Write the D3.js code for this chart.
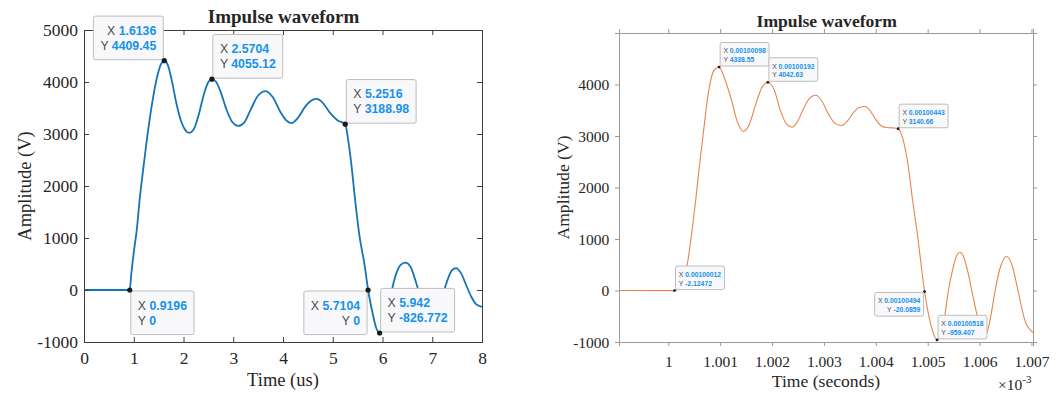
<!DOCTYPE html>
<html>
<head>
<meta charset="utf-8">
<script src="https://cdn.jsdelivr.net/npm/d3@7"></script>
<style>
  html, body { margin: 0; padding: 0; background: #fff; }
  svg { display: block; }
  .serif { font-family: "Liberation Serif", "Times New Roman", serif; fill: #262626; }
  .tip { font-family: "Liberation Sans", Arial, Helvetica, sans-serif; }
</style>
</head>
<body>
<svg id="chart" width="1057" height="399"></svg>
<script>
// ---- Measured waveform (time in microseconds, amplitude in volts) ----
const measTime = [0, 0.9196, 0.95, 1.0, 1.06, 1.12, 1.2, 1.29, 1.38, 1.47, 1.55, 1.6136, 1.68, 1.76, 1.85, 1.95,
  2.04, 2.12, 2.2, 2.3, 2.42, 2.5, 2.5704, 2.65, 2.75, 2.86, 2.98, 3.1, 3.22, 3.35, 3.5, 3.65, 3.8, 3.95,
  4.08, 4.17, 4.3, 4.45, 4.6, 4.68, 4.8, 4.95, 5.1, 5.2516, 5.3, 5.37, 5.45, 5.53, 5.645, 5.7104, 5.8, 5.87,
  5.942, 6.0, 6.07, 6.13, 6.19, 6.27, 6.36, 6.46, 6.56, 6.64, 6.72, 6.82, 6.97, 7.1, 7.24, 7.32, 7.4, 7.48,
  7.58, 7.68, 7.78, 7.88, 8.0];
const measVolt = [0, 0, 300, 720, 1150, 1750, 2400, 3080, 3650, 4100, 4350, 4409.45, 4340, 4050, 3620, 3250,
  3070, 3020, 3080, 3350, 3800, 4000, 4055.12, 4010, 3800, 3480, 3230, 3155, 3220, 3470, 3740, 3825, 3700, 3420,
  3250, 3210, 3310, 3530, 3660, 3675, 3600, 3400, 3260, 3188.98, 2950, 2450, 1730, 1090, 448, 0, -440, -720,
  -826.772, -780, -600, -330, 0, 300, 480, 525, 450, 250, 0, -250, -380, -220, 0, 230, 380, 420,
  320, 100, -120, -270, -325];

// Data tips on the measured waveform
const measTipX = [1.6136, 2.5704, 5.2516, 0.9196, 5.7104, 5.942];
const measTipY = [4409.45, 4055.12, 3188.98, 0, 0, -826.772];
const measTipXText = ["1.6136", "2.5704", "5.2516", "0.9196", "5.7104", "5.942"];
const measTipYText = ["4409.45", "4055.12", "3188.98", "0", "0", "-826.772"];
const measTipSide = ["nw", "ne", "ne", "se", "sw", "ne"];

// ---- Simulated waveform (time in units of 1e-3 s, amplitude in volts) ----
const simTime = [0.99905, 1.00012, 1.0002, 1.00028, 1.000366, 1.00045, 1.000528, 1.0006, 1.000674, 1.00074,
  1.000803, 1.00088, 1.00098, 1.00108, 1.00122, 1.00133, 1.001445, 1.00156, 1.00168, 1.0018, 1.00192, 1.00204,
  1.00216, 1.00228, 1.00239, 1.0025, 1.00262, 1.00274, 1.002846, 1.00296, 1.00309, 1.00322, 1.00334, 1.00346,
  1.00358, 1.00369, 1.00379, 1.0039, 1.004, 1.0041, 1.0042, 1.00432, 1.00443, 1.00452, 1.00462, 1.00471,
  1.0048, 1.00494, 1.00505, 1.00512, 1.00518, 1.00525, 1.00533, 1.0054, 1.00548, 1.00556, 1.00562, 1.00569,
  1.00577, 1.00585, 1.00595, 1.00602, 1.00608, 1.00614, 1.00622, 1.0063, 1.00641, 1.00652, 1.00663, 1.00674,
  1.00688, 1.00703];
const simVolt = [0, -2.12472, 40, 200, 512, 1100, 1748, 2420, 3043, 3600,
  4013, 4270, 4338.55, 4130, 3689, 3280, 3093, 3220, 3600, 3930, 4042.63, 3900,
  3500, 3230, 3171, 3300, 3560, 3750, 3792, 3680, 3420, 3240, 3204, 3300,
  3470, 3560, 3573, 3480, 3320, 3200, 3165, 3158, 3140.66, 2950, 2450, 1748,
  1107, -20.0859, -620, -860, -959.407, -850, -485, 0, 400, 680, 744, 660,
  380, 0, -480, -800, -880, -820, -480, 0, 480, 660, 480, 0,
  -600, -815];

const simTipX = [1.00098, 1.00192, 1.00443, 1.00012, 1.00494, 1.00518];
const simTipY = [4338.55, 4042.63, 3140.66, -2.12472, -20.0859, -959.407];
const simTipXText = ["0.00100098", "0.00100192", "0.00100443", "0.00100012", "0.00100494", "0.00100518"];
const simTipYText = ["4338.55", "4042.63", "3140.66", "-2.12472", "-20.0859", "-959.407"];
const simTipSide = ["ne", "ne", "ne", "ne", "sw", "ne"];

// Axis ticks
const voltTicks = [-1000, 0, 1000, 2000, 3000, 4000, 5000];
const simVoltTicks = [-1000, 0, 1000, 2000, 3000, 4000];
const measTimeTicks = [0, 1, 2, 3, 4, 5, 6, 7, 8];
const simTimeTicks = [1, 1.001, 1.002, 1.003, 1.004, 1.005, 1.006, 1.007];
const simTimeLabels = ["1", "1.001", "1.002", "1.003", "1.004", "1.005", "1.006", "1.007"];

const svg = d3.select("#chart");
const TIP_BLUE = "#1592ea";

function drawTips(g, x, y, xs, ys, xt, yt, sides, opt) {
  xs.forEach((xv, i) => {
    const px = x(xv), py = y(ys[i]);
    const tg = g.append("g");
    const rect = tg.append("rect")
      .attr("fill", "#f8f8fb").attr("stroke", "#bdbdbd").attr("stroke-width", 1)
      .attr("rx", 2);
    const rows = [["X", xt[i]], ["Y", yt[i]]];
    const texts = rows.map(r => {
      const t = tg.append("text").attr("class", "tip").attr("font-size", opt.font);
      t.append("tspan").attr("fill", "#4a4a4a").text(r[0] + " ");
      t.append("tspan").attr("fill", TIP_BLUE).attr("font-weight", "bold").text(r[1]);
      return t;
    });
    const w = d3.max(texts, t => t.node().getComputedTextLength()) + 2 * opt.pad;
    const h = opt.h;
    const side = sides[i];
    const bx = side.includes("e") ? px + opt.off : px - opt.off - w;
    const by = side.includes("n") ? py - opt.off - h : py + opt.off;
    rect.attr("x", bx).attr("y", by).attr("width", w).attr("height", h);
    const right = side.includes("w");
    texts.forEach((t, k) => {
      t.attr("x", right ? bx + w - opt.pad : bx + opt.pad)
       .attr("y", by + opt.base[k])
       .attr("text-anchor", right ? "end" : "start");
    });
    g.append("circle").attr("cx", px).attr("cy", py).attr("r", opt.dot).attr("fill", "#1a1a1a");
  });
}

// ================= Measured waveform panel =================
(function () {
  const L = 84, R = 482, T = 30, B = 342;
  const x = d3.scaleLinear().domain([0, 8]).range([L, R]);
  const y = d3.scaleLinear().domain([-1000, 5000]).range([B, T]);
  const g = svg.append("g");
  const axisColor = "#3c3c3c";

  g.append("text").attr("class", "serif").attr("x", (L + R) / 2 + 0.5).attr("y", 22.5)
    .attr("text-anchor", "middle").attr("font-size", 19).attr("font-weight", "bold")
    .attr("fill", "#111").text("Impulse waveform");

  const line = d3.line().x((d, i) => x(measTime[i])).y(d => y(d)).curve(d3.curveMonotoneX);
  g.append("path").datum(measVolt).attr("d", line)
    .attr("fill", "none").attr("stroke", "#1574b8").attr("stroke-width", 1.8)
    .attr("stroke-linejoin", "round");

  // box + inward ticks
  const ax = g.append("g");
  const bottom = ax.append("g").attr("transform", `translate(0,${B})`)
    .call(d3.axisBottom(x).tickValues(measTimeTicks).tickSize(-5).tickPadding(11).tickFormat(d3.format("d")));
  const top = ax.append("g").attr("transform", `translate(0,${T})`)
    .call(d3.axisTop(x).tickValues(measTimeTicks).tickSize(-5).tickFormat(""));
  const left = ax.append("g").attr("transform", `translate(${L},0)`)
    .call(d3.axisLeft(y).tickValues(voltTicks).tickSize(-5).tickPadding(11).tickFormat(d3.format("d")));
  const rightAx = ax.append("g").attr("transform", `translate(${R},0)`)
    .call(d3.axisRight(y).tickValues(voltTicks).tickSize(-5).tickFormat(""));
  [bottom, top, left, rightAx].forEach(a => {
    a.select(".domain").attr("stroke", axisColor);
    a.selectAll(".tick line").attr("stroke", axisColor);
    a.selectAll("text").attr("class", "serif").attr("font-size", 17.5).attr("fill", "#262626");
  });
  bottom.selectAll("text").attr("dy", null).attr("y", 22);
  left.selectAll("text").attr("dy", "0.33em").attr("x", -6);
  left.selectAll("text").text(d => d < 0 ? "-" + Math.abs(d) : d);

  g.append("text").attr("class", "serif").attr("x", (L + R) / 2).attr("y", 386)
    .attr("text-anchor", "middle").attr("font-size", 18.5).text("Time (us)");
  g.append("text").attr("class", "serif").attr("transform", `translate(31,${(T + B) / 2}) rotate(-90)`)
    .attr("text-anchor", "middle").attr("font-size", 18.5).text("Amplitude (V)");

  drawTips(g, x, y, measTipX, measTipY, measTipXText, measTipYText, measTipSide,
    { font: 12.3, pad: 7, h: 43.6, off: 1, base: [18.7, 33.7], dot: 2.6 });
})();

// ================= Simulated waveform panel =================
(function () {
  const L = 619, R = 1033, T = 33, B = 342;
  const x = d3.scaleLinear().domain([0.99905, 1.00703]).range([L, R]);
  const y = d3.scaleLinear().domain([-1000, 5000]).range([B, T]);
  const g = svg.append("g");
  const axisColor = "#9a9a9a";

  g.append("text").attr("class", "serif").attr("x", 826.7).attr("y", 26.5)
    .attr("text-anchor", "middle").attr("font-size", 17.6).attr("font-weight", "bold")
    .attr("fill", "#111").text("Impulse waveform");

  const line = d3.line().x((d, i) => x(simTime[i])).y(d => y(d)).curve(d3.curveMonotoneX);
  g.append("path").datum(simVolt).attr("d", line)
    .attr("fill", "none").attr("stroke", "#e6844f").attr("stroke-width", 1.1);

  const ax = g.append("g");
  const bottom = ax.append("g").attr("transform", `translate(0,${B})`)
    .call(d3.axisBottom(x).tickValues(simTimeTicks).tickSize(4).tickPadding(9)
      .tickFormat((d, i) => simTimeLabels[i]));
  const top = ax.append("g").attr("transform", `translate(0,${T})`)
    .call(d3.axisTop(x).tickValues(simTimeTicks).tickSize(4).tickFormat(""));
  const left = ax.append("g").attr("transform", `translate(${L},0)`)
    .call(d3.axisLeft(y).tickValues(simVoltTicks).tickSize(4).tickPadding(6).tickFormat(d3.format("d")));
  const rightAx = ax.append("g").attr("transform", `translate(${R},0)`)
    .call(d3.axisRight(y).tickValues(simVoltTicks).tickSize(4).tickFormat(""));
  [bottom, top, left, rightAx].forEach(a => {
    a.select(".domain").attr("stroke", axisColor);
    a.selectAll(".tick line").attr("stroke", axisColor);
    a.selectAll("text").attr("class", "serif").attr("font-size", 15.5).attr("fill", "#262626");
  });
  bottom.selectAll("text").attr("dy", null).attr("y", 24.5);
  left.selectAll("text").attr("dy", "0.33em").attr("x", -9.7);
  left.selectAll("text").text(d => d < 0 ? "-" + Math.abs(d) : d);

  g.append("text").attr("class", "serif").attr("x", 826).attr("y", 387)
    .attr("text-anchor", "middle").attr("font-size", 17.6).text("Time (seconds)");
  const ex = g.append("text").attr("class", "serif").attr("x", 998).attr("y", 390).attr("font-size", 15.5);
  ex.append("tspan").text("\u00d710");
  ex.append("tspan").attr("font-size", 11).attr("dy", -7).text("-3");
  g.append("text").attr("class", "serif").attr("transform", `translate(569,${(T + B) / 2}) rotate(-90)`)
    .attr("text-anchor", "middle").attr("font-size", 17.6).text("Amplitude (V)");

  drawTips(g, x, y, simTipX, simTipY, simTipXText, simTipYText, simTipSide,
    { font: 6.8, pad: 3.3, h: 23.6, off: 1, base: [10.8, 19.5], dot: 1.4 });
})();
</script>
</body>
</html>
